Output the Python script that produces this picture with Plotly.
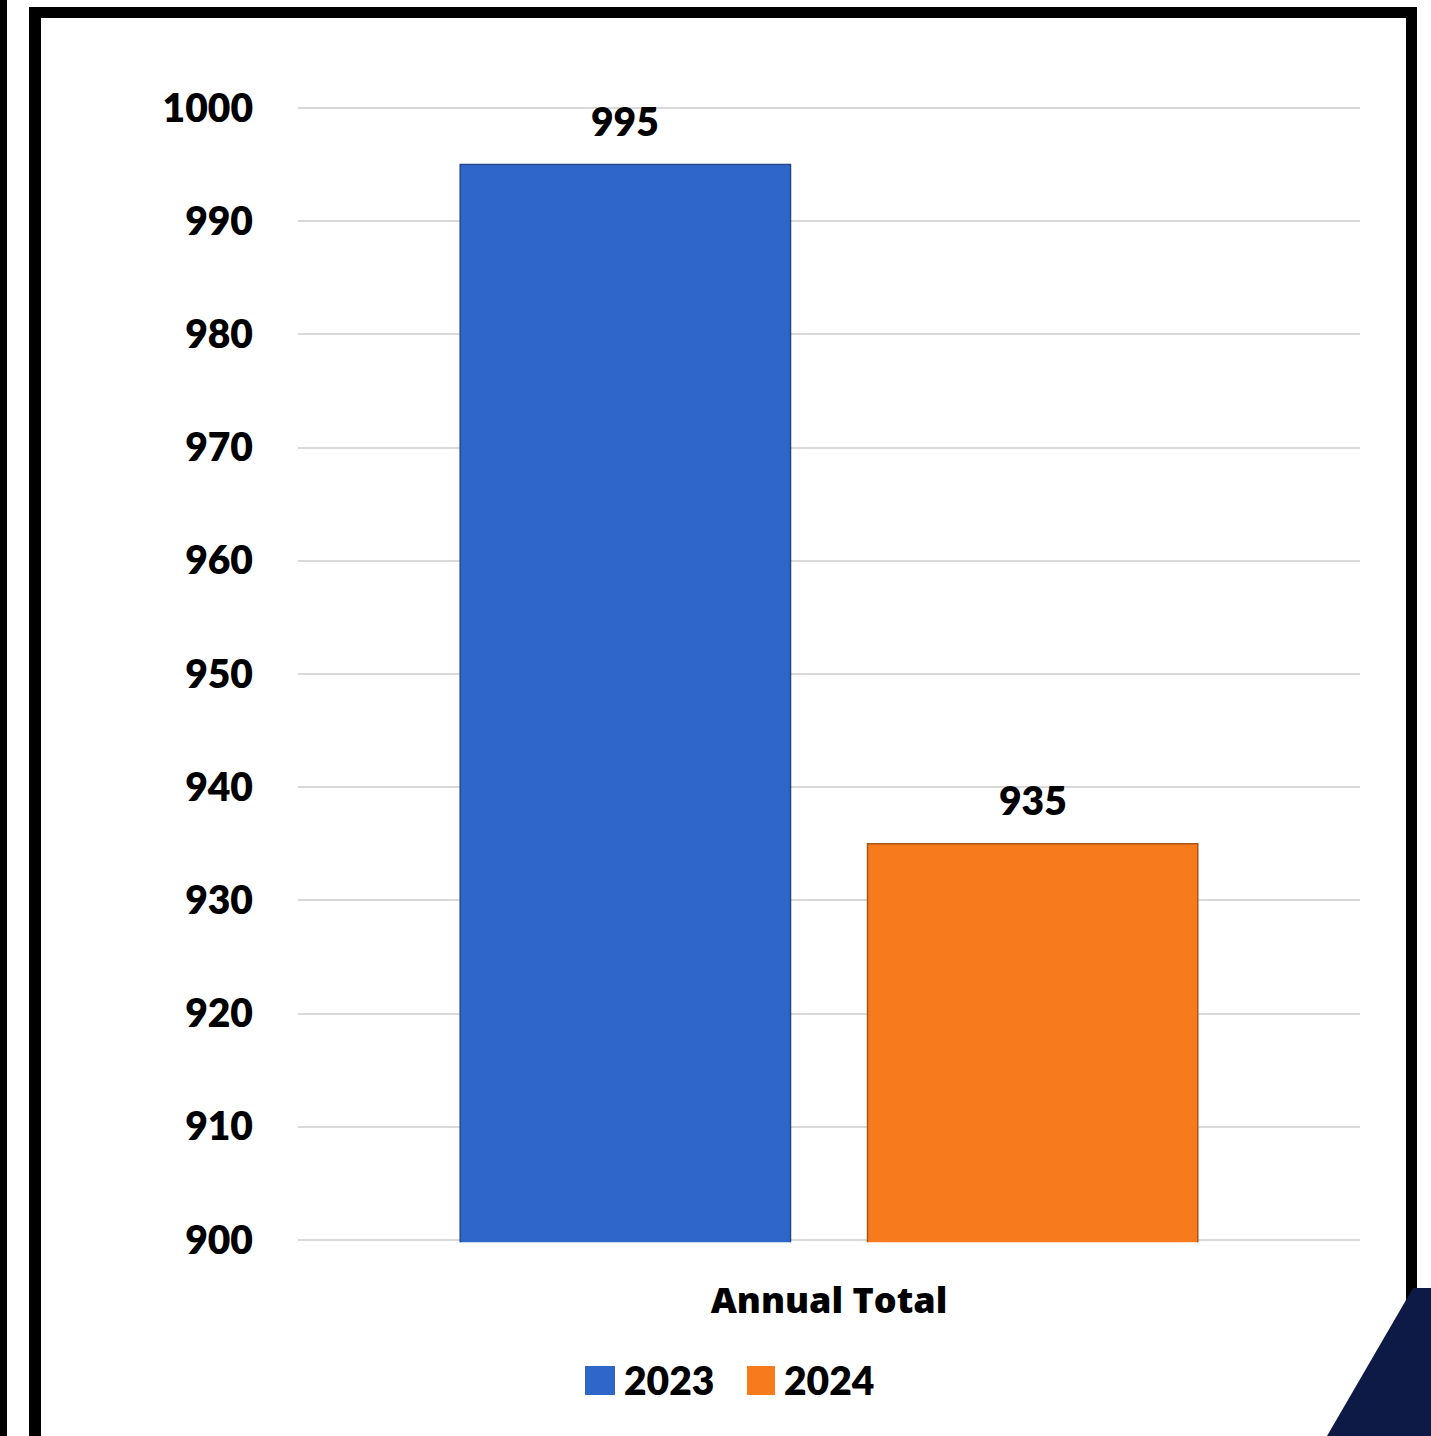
import plotly.graph_objects as go

# ---- data ----
categories = ["Annual Total"]
series_names = ["2023", "2024"]
values_2023 = [995]
values_2024 = [935]
series_values = [values_2023, values_2024]
series_colors = ["#2F66CA", "#F77A1C"]
outline_colors = ["#24478A", "#A8551A"]
y_ticks = [900, 910, 920, 930, 940, 950, 960, 970, 980, 990, 1000]

# ---- canvas helpers ----
W, H = 1431, 1436
def px(x):
    return x / W
def py(y):
    return 1 - y / H

PLOT_L, PLOT_R = 298, 1360
Y_LO, Y_HI = 899.8, 1000.2
PX_PER_UNIT = (1240 - 108) / 100.0
PLOT_T = 108 - (Y_HI - 1000) * PX_PER_UNIT
PLOT_B = 1240 + (900 - Y_LO) * PX_PER_UNIT
BARGAP = 0.233
BARGROUPGAP = 0.189
FONT = "Lato"
FS = 39
WT = 800

fig = go.Figure()
for name, vals, col, oc in zip(series_names, series_values, series_colors, outline_colors):
    fig.add_trace(go.Bar(
        x=categories, y=vals, name=name,
        marker=dict(color=col, line=dict(color=oc, width=1.5)),
        showlegend=False, cliponaxis=True,
    ))

# value labels above bars (offset of each bar within the group from bar settings)
plot_w = PLOT_R - PLOT_L
slot = plot_w * (1 - BARGAP) / len(series_names)
annotations = []
for i, vals in enumerate(series_values):
    off = (i - (len(series_names) - 1) / 2) * slot
    annotations.append(dict(
        x=categories[0], y=vals[0], xref="x", yref="y", text=str(vals[0]),
        showarrow=False, xshift=off, yshift=44, yanchor="middle",
        font=dict(family=FONT, size=FS, color="black", weight=WT),
    ))

# legend (manual, to match large swatches)
legend_items = [(585, 615, 622), (747, 775, 782)]
shapes = []
for (x0, x1, tx), name, col in zip(legend_items, series_names, series_colors):
    shapes.append(dict(type="rect", xref="paper", yref="paper",
                       x0=px(x0), x1=px(x1), y0=py(1395), y1=py(1366),
                       fillcolor=col, line=dict(width=0), layer="above"))
    annotations.append(dict(x=px(tx), y=py(1380), xref="paper", yref="paper",
                            text=name, showarrow=False, xanchor="left", yanchor="middle",
                            font=dict(family=FONT, size=FS, color="black", weight=WT)))

# frame decorations
def rect(x0, y0, x1, y1, color):
    return dict(type="rect", xref="paper", yref="paper",
                x0=px(x0), x1=px(x1), y0=py(y1), y1=py(y0),
                fillcolor=color, line=dict(width=0), layer="above")

shapes += [
    rect(0, 0, 7, H, "black"),
    rect(29, 7, 41, H, "black"),
    rect(29, 7, 1417, 18, "black"),
    rect(1406, 7, 1417, 1300, "black"),
    dict(type="path", xref="paper", yref="paper",
         path=f"M {px(1413)},{py(1288)} L {px(W)},{py(1288)} L {px(W)},{py(H)} L {px(1327)},{py(H)} Z",
         fillcolor="#0D1A45", line=dict(width=0), layer="above"),
]

fig.update_layout(
    width=W, height=H,
    margin=dict(l=0, r=0, t=0, b=0),
    paper_bgcolor="white", plot_bgcolor="white",
    barmode="group", bargap=BARGAP, bargroupgap=BARGROUPGAP,
    font=dict(family=FONT, color="black"),
    showlegend=False,
    shapes=shapes,
    annotations=annotations,
    xaxis=dict(
        domain=[px(PLOT_L), px(PLOT_R)],
        showgrid=False, showline=False, zeroline=False,
        tickfont=dict(family="Open Sans", size=36, color="black", weight=WT),
        ticklabelstandoff=34, automargin=False,
    ),
    yaxis=dict(
        domain=[py(PLOT_B), py(PLOT_T)],
        range=[Y_LO, Y_HI], tickvals=y_ticks,
        showgrid=True, gridcolor="#D9D9D9", gridwidth=2,
        showline=False, zeroline=False,
        tickfont=dict(family=FONT, size=FS, color="black", weight=WT),
        ticklabelstandoff=44, automargin=False,
    ),
)

fig.write_html(
    "out.html",
    config={"displayModeBar": False},
    post_script="document.body.style.margin='0';document.body.style.padding='0';document.body.style.overflow='hidden';",
)
